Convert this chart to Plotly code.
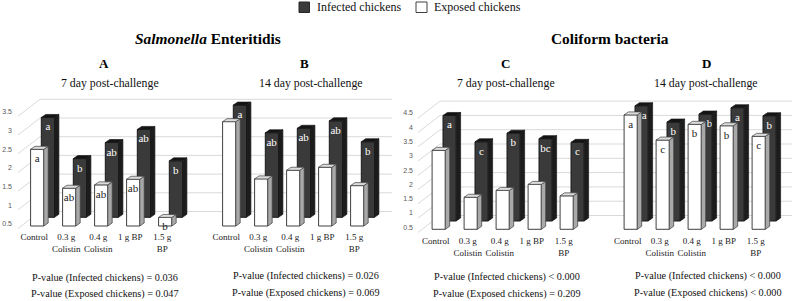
import plotly.graph_objects as go

W, H = 792, 301
SERIF = "Liberation Serif"

categories = ["Control", "0.3 g<br>Colistin", "0.4 g<br>Colistin", "1 g BP", "1.5 g<br>BP"]

a_infected = [3.17, 2.07, 2.50, 2.85, 2.01]
a_exposed = [2.55, 1.51, 1.60, 1.75, 0.73]
b_infected = [3.50, 2.76, 2.88, 3.08, 2.52]
b_exposed = [3.29, 1.76, 1.99, 2.07, 1.58]
c_infected = [4.19, 3.27, 3.57, 3.38, 3.25]
c_exposed = [3.26, 1.62, 1.86, 2.07, 1.67]
d_infected = [4.53, 3.96, 4.24, 4.46, 4.18]
d_exposed = [4.50, 3.62, 4.17, 4.12, 3.75]

a_inf_letters = ["a", "b", "ab", "ab", "b"]
a_exp_letters = ["a", "ab", "ab", "ab", "b"]
b_inf_letters = ["a", "ab", "ab", "ab", "b"]
b_exp_letters = ["", "", "", "", ""]
c_inf_letters = ["a", "c", "b", "bc", "c"]
c_exp_letters = ["", "", "", "", ""]
d_inf_letters = ["\u00a0\u00a0a", "b", "\u00a0\u00a0\u00a0b", "a", "b"]
d_exp_letters = ["a", "c", "b", "b", "c"]

ticks_left = [0.5, 1, 1.5, 2, 2.5, 3, 3.5]
ticks_right = [0.5, 1, 1.5, 2, 2.5, 3, 3.5, 4, 4.5]

pvalues = [
    ("P-value (Infected chickens) = 0.036", 105, 277.5),
    ("P-value (Exposed chickens) = 0.047", 105, 294),
    ("P-value (Infected chickens) = 0.026", 305.5, 276),
    ("P-value (Exposed chickens) = 0.069", 305.5, 293),
    ("P-value (Infected chickens) < 0.000", 507, 277),
    ("P-value (Exposed chickens) = 0.209", 507, 294),
    ("P-value (Infected chickens) < 0.000", 707.5, 276),
    ("P-value (Exposed chickens) < 0.000", 707.5, 292.5),
]

SPACING = 32.0
BAR_W = 13.2
DEPTH_X = 4.4
DEPTH_Y = 3.0

fig = go.Figure()
layout = {}


def axis_ranges(left, right, top, bottom, x0, floor, scale):
    xr = [(left - x0) / SPACING, (right - x0) / SPACING]
    yr = [0.5 + (floor - bottom) / scale, 0.5 + (floor - top) / scale]
    return xr, yr


def add_series(values, letters, x_idx, xa, ya, scale, front, side, top, line, text_col):
    dx = DEPTH_X / SPACING
    dy = DEPTH_Y / scale
    hw = BAR_W / 2 / SPACING
    fig.add_trace(go.Bar(
        x=x_idx, y=[v - 0.5 for v in values], base=0.5, width=2 * hw,
        marker=dict(color=front, line=dict(color=line, width=1)),
        text=letters, textposition="inside", insidetextanchor="end", textangle=0,
        constraintext="none", insidetextfont=dict(family=SERIF, size=11, color=text_col),
        xaxis=xa, yaxis=ya, showlegend=False, hoverinfo="skip",
    ))
    for i, v in zip(x_idx, values):
        xl, xr = i - hw, i + hw
        fig.add_trace(go.Scatter(
            x=[xr, xr + dx, xr + dx, xr, xr], y=[0.5, 0.5 + dy, v + dy, v, 0.5],
            mode="lines", fill="toself", fillcolor=side, line=dict(color=line, width=0.7),
            xaxis=xa, yaxis=ya, showlegend=False, hoverinfo="skip",
        ))
        fig.add_trace(go.Scatter(
            x=[xl, xl + dx, xr + dx, xr, xl], y=[v, v + dy, v + dy, v, v],
            mode="lines", fill="toself", fillcolor=top, line=dict(color=line, width=0.7),
            xaxis=xa, yaxis=ya, showlegend=False, hoverinfo="skip",
        ))


def add_group(n, left, right, bottom, scale, floors, x0s, grid_right, ticks, inf, exp, inf_l, exp_l, yshift):
    top = 92
    dom_x = [left / W, right / W]
    dom_y = [1 - bottom / H, 1 - top / H]
    names = [n, n + 1, n + 2]
    idx = list(range(5)) + list(range(6, 11))
    for k, layer in enumerate(names):
        xr, yr = axis_ranges(left, right, top, bottom, x0s[k], floors[k], scale)
        xkey = "xaxis" if layer == 1 else f"xaxis{layer}"
        ykey = "yaxis" if layer == 1 else f"yaxis{layer}"
        xax = dict(domain=dom_x, range=xr, showgrid=False, zeroline=False, showline=False, ticks="",
                   anchor="y" if layer == 1 else f"y{layer}")
        yax = dict(domain=dom_y, range=yr, showgrid=False, zeroline=False, showline=False, ticks="",
                   anchor="x" if layer == 1 else f"x{layer}")
        if k > 0:
            base_x = "x" if n == 1 else f"x{n}"
            base_y = "y" if n == 1 else f"y{n}"
            xax["overlaying"] = base_x
            yax["overlaying"] = base_y
        if k == 2:
            xax.update(tickmode="array", tickvals=idx, ticktext=categories + categories,
                       ticklabelshift=-3, tickangle=0, ticklabelstandoff=0,
                       tickfont=dict(family=SERIF, size=9, color="#1a1a1a"))
            yax.update(tickmode="array", tickvals=ticks, ticktext=[f"{t:g}" for t in ticks],
                       ticklabelshift=yshift, tickfont=dict(family="Liberation Sans", size=7, color="#595959"))
        else:
            xax["visible"] = False
            yax["visible"] = False
        layout[xkey] = xax
        layout[ykey] = yax

    # back wall lines plus the diagonal floor-to-front segments
    wall_x, wall_y = [], []
    xl_wall = (x0s[3] - x0s[0]) / SPACING
    xr_wall = (grid_right - x0s[0]) / SPACING
    for t in ticks:
        wall_x += [xl_wall - 22 / SPACING, xl_wall, xr_wall, None]
        wall_y += [t - 17 / scale, t, t, None]
    fig.add_trace(go.Scatter(
        x=wall_x, y=wall_y, mode="lines", line=dict(color="#d9d9d9", width=1),
        xaxis="x" if n == 1 else f"x{n}", yaxis="y" if n == 1 else f"y{n}",
        showlegend=False, hoverinfo="skip",
    ))
    add_series(inf, inf_l, idx, f"x{n+1}", f"y{n+1}", scale, "#3a3a3a", "#1c1c1c", "#141414", "#1a1a1a", "white")
    add_series(exp, exp_l, idx, f"x{n+2}", f"y{n+2}", scale, "white", "#a8a8a8", "#dcdcdc", "#404040", "#222222")


add_group(1, 13, 396, 230.2, 37.4, [211.5, 217.3, 226.0], [37.2, 47.9, 37.2, 40.0], 392, ticks_left,
          a_infected + b_infected, a_exposed + b_exposed, a_inf_letters + b_inf_letters,
          a_exp_letters + b_exp_letters, -2)
add_group(4, 414, 792, 234.2, 28.6, [215.5, 221.0, 229.3], [438.7, 449.6, 438.7, 440.0], 792, ticks_right,
          c_infected + d_infected, c_exposed + d_exposed, c_inf_letters + d_inf_letters,
          c_exp_letters + d_exp_letters, -2)

annotations = []


def note(text, x, y, size, bold=False, color="#111111", anchor="center"):
    annotations.append(dict(
        text=f"<b>{text}</b>" if bold else text, x=x / W, y=1 - y / H, xref="paper", yref="paper",
        xanchor=anchor, yanchor="middle", showarrow=False,
        font=dict(family=SERIF, size=size, color=color),
    ))


note("Infected chickens", 315, 7, 12, anchor="left")
note("Exposed chickens", 432, 7, 12, anchor="left")
note("<i>Salmonella</i> Enteritidis", 208, 38.5, 15.4, bold=True, color="black")
note("Coliform bacteria", 609.5, 38.5, 15.4, bold=True, color="black")
for letter, x in [("A", 104), ("B", 304), ("C", 505), ("D", 706.5)]:
    note(letter, x, 63, 13, bold=True, color="black")
for label, x in [("7 day post-challenge", 110.3), ("14 day post-challenge", 310.7),
                 ("7 day post-challenge", 505.5), ("14 day post-challenge", 706)]:
    note(label, x, 83, 11.8)
for text, x, y in pvalues:
    note(text.replace("<", "&lt;"), x, y, 10.2)

shapes = [
    dict(type="rect", xref="paper", yref="paper", x0=299 / W, x1=309.5 / W, y0=1 - 12.5 / H, y1=1 - 2 / H,
         fillcolor="#3a3a3a", line=dict(color="#262626", width=1)),
    dict(type="rect", xref="paper", yref="paper", x0=416 / W, x1=427 / W, y0=1 - 12.5 / H, y1=1 - 2 / H,
         fillcolor="white", line=dict(color="#404040", width=1)),
]

fig.update_layout(
    width=W, height=H, autosize=False, margin=dict(l=0, r=0, t=0, b=0),
    paper_bgcolor="white", plot_bgcolor="white", barmode="overlay",
    annotations=annotations, shapes=shapes, **layout,
)
fig.write_html("out.html", config={"displayModeBar": False},
               post_script="document.body.style.margin='0';")
